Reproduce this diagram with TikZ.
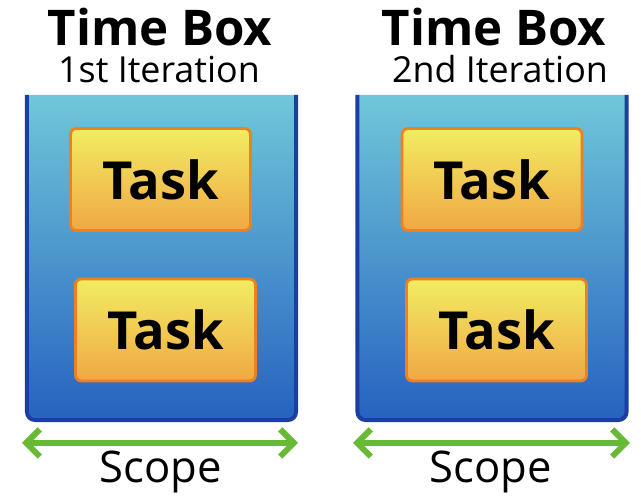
\documentclass[tikz,border=0pt]{standalone}
\usepackage{fontspec}
\setmainfont{Open Sans}
\usetikzlibrary{arrows.meta}

\definecolor{boxtop}{RGB}{112,199,217}
\definecolor{boxbottom}{RGB}{38,98,192}
\definecolor{boxedge}{RGB}{28,62,160}
\definecolor{tasktop}{RGB}{242,236,98}
\definecolor{taskbottom}{RGB}{240,168,68}
\definecolor{taskedge}{RGB}{238,128,30}
\definecolor{scopegreen}{RGB}{104,186,52}

\begin{document}
\begin{tikzpicture}[x=0.025cm, y=0.025cm,
    timebox/.style={minimum width=6.725cm, minimum height=8.125cm, inner sep=0pt, outer sep=0pt},
    boxshade/.style={top color=boxtop, bottom color=boxbottom},
    boxline/.style={draw=boxedge, line width=2.8pt},
    task/.style={draw=taskedge, line width=2pt, rounded corners=0.15cm,
        top color=tasktop, bottom color=taskbottom,
        minimum width=4.5cm, minimum height=2.55cm, inner sep=0pt,
        font=\bfseries\fontsize{37.3}{38}\selectfont},
    title/.style={anchor=base, inner sep=0pt, font=\bfseries\fontsize{35}{36}\selectfont},
    iter/.style={anchor=base, inner sep=0pt, font=\fontsize{25.5}{26}\selectfont},
    scopetext/.style={anchor=base, inner sep=0pt, font=\fontsize{31}{32}\selectfont},
    scopearrow/.style={draw=scopegreen, line width=4.2pt,
        {Straight Barb[length=3.4mm, width=6.8mm]}-{Straight Barb[length=3.4mm, width=6.8mm]}}]
    \useasboundingbox (0,0) rectangle (641,498);

    % time boxes
    \node[timebox] (box1) at (161.5,240.5) {};
    \node[timebox] (box2) at (492,240.5) {};
    \foreach \b in {box1,box2} {
        \shade[boxshade] [rounded corners=0.2cm] (\b.south west) rectangle (\b.north east)
            [sharp corners] (\b.west) rectangle (\b.north east);
        \draw[boxline] (\b.north west) [rounded corners=0.2cm] -- (\b.south west)
            -- (\b.south east) -- (\b.north east);
    }

    % titles
    \node[title] (title1) at (160,452) {Time Box};
    \node[iter] (iter1) at (159,415) {1st Iteration};
    \node[title] (title2) at (494,452) {Time Box};
    \node[iter] (iter2) at (500,415) {2nd Iteration};

    % tasks
    \node[task] (task1a) at (160.5,318.5) {Task};
    \node[task] (task1b) at (165.5,168) {Task};
    \node[task] (task2a) at (492,318.5) {Task};
    \node[task] (task2b) at (496.5,168) {Task};

    % scope
    \coordinate (s1l) at (22,55);
    \coordinate (s1r) at (298,55);
    \coordinate (s2l) at (353,55);
    \coordinate (s2r) at (630,55);
    \draw[scopearrow] (s1l) -- (s1r);
    \draw[scopearrow] (s2l) -- (s2r);
    \node[scopetext] (scope1) at (161,15) {Scope};
    \node[scopetext] (scope2) at (491,15) {Scope};
\end{tikzpicture}
\end{document}
